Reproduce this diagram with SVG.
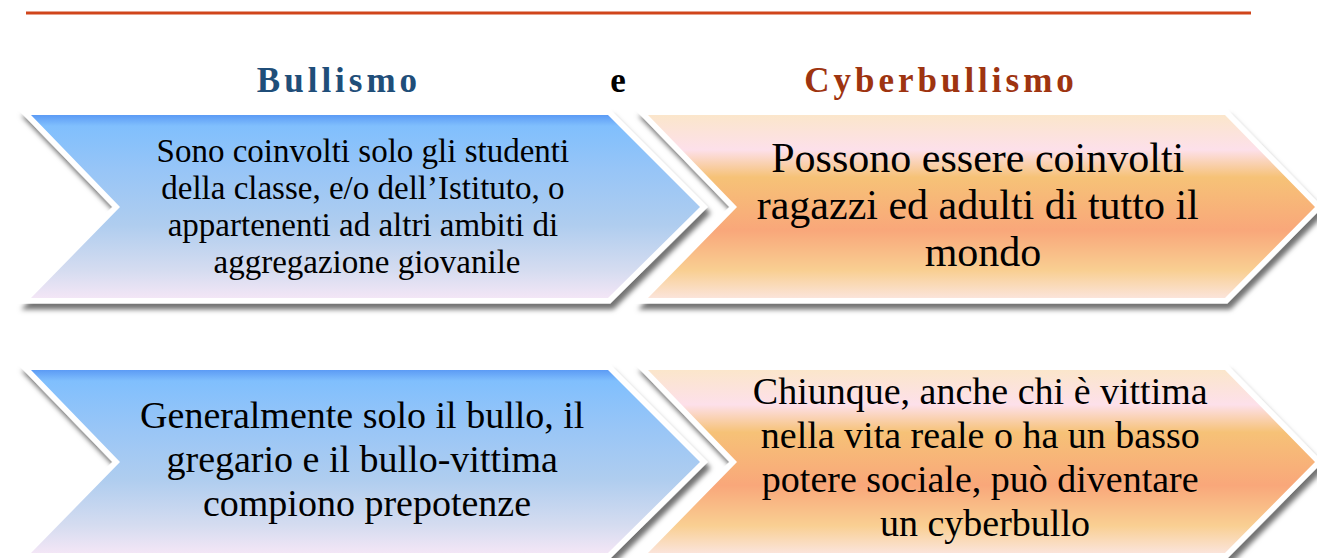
<svg xmlns="http://www.w3.org/2000/svg" width="1317" height="558" viewBox="0 0 1317 558">
<style>
.title{font-family:"Liberation Serif","Times New Roman",serif;font-weight:bold;font-size:35px;letter-spacing:4px;text-anchor:middle}
.txt{font-family:"Liberation Serif","Times New Roman",serif;fill:#000;text-anchor:middle}
.border{fill:#fff;stroke:#fff;stroke-width:11;stroke-linejoin:miter;filter:url(#sh)}
</style>
<defs>
<linearGradient id="gBlue" x1="0" y1="0" x2="0" y2="1">
<stop offset="0" stop-color="#5C9BF5"/>
<stop offset="0.06" stop-color="#80BFFD"/>
<stop offset="0.3" stop-color="#97C5F7"/>
<stop offset="0.6" stop-color="#AFCDEF"/>
<stop offset="0.85" stop-color="#D5DCF0"/>
<stop offset="1" stop-color="#F3E6F6"/>
</linearGradient>
<linearGradient id="gOrange" x1="0" y1="0" x2="0" y2="1">
<stop offset="0" stop-color="#FBE6CB"/>
<stop offset="0.19" stop-color="#FDE0EA"/>
<stop offset="0.34" stop-color="#F6C277"/>
<stop offset="0.63" stop-color="#F9A77A"/>
<stop offset="0.85" stop-color="#F9CF92"/>
<stop offset="1" stop-color="#FBE4DA"/>
</linearGradient>
<filter id="sh" x="-5%" y="-10%" width="110%" height="125%">
<feDropShadow dx="3" dy="6" stdDeviation="2.5" flood-color="#000" flood-opacity="0.55"/>
</filter>
</defs>

<line x1="26" y1="13" x2="1251" y2="13" stroke="#D0451B" stroke-width="3"/>

<g id="header">
<text class="title" x="339" y="92" fill="#1F4E79">Bullismo</text>
<text class="title" x="618" y="92" fill="#000" style="letter-spacing:0">e</text>
<text class="title" x="941" y="92" fill="#9E3410">Cyberbullismo</text>
</g>

<g id="node-b1">
<path class="border" d="M31,115 L608,115 L700,207 L608,298 L31,298 L120,207 Z"/>
<path fill="url(#gBlue)" d="M31,115 L608,115 L700,207 L608,298 L31,298 L120,207 Z"/>
<text class="txt" font-size="33" x="367">
<tspan x="367" y="162">Sono coinvolti solo gli studenti</tspan>
<tspan x="367" y="199">della classe, e/o dell’Istituto, o</tspan>
<tspan x="367" y="236">appartenenti ad altri ambiti di</tspan>
<tspan x="367" y="273">aggregazione giovanile</tspan>
</text>
</g>

<g id="node-c1">
<path class="border" d="M648,115 L1225,115 L1315,207 L1225,298 L648,298 L737,207 Z"/>
<path fill="url(#gOrange)" d="M648,115 L1225,115 L1315,207 L1225,298 L648,298 L737,207 Z"/>
<text class="txt" font-size="42" x="983">
<tspan x="983" y="172">Possono essere coinvolti</tspan>
<tspan x="983" y="219">ragazzi ed adulti di tutto il</tspan>
<tspan x="983" y="266">mondo</tspan>
</text>
</g>

<g id="node-b2">
<path class="border" d="M31,370 L608,370 L700,462 L608,553 L31,553 L120,462 Z"/>
<path fill="url(#gBlue)" d="M31,370 L608,370 L700,462 L608,553 L31,553 L120,462 Z"/>
<text class="txt" font-size="38" x="367">
<tspan x="367" y="428">Generalmente solo il bullo, il</tspan>
<tspan x="367" y="472">gregario e il bullo-vittima</tspan>
<tspan x="367" y="516">compiono prepotenze</tspan>
</text>
</g>

<g id="node-c2">
<path class="border" d="M648,370 L1225,370 L1315,462 L1225,553 L648,553 L737,462 Z"/>
<path fill="url(#gOrange)" d="M648,370 L1225,370 L1315,462 L1225,553 L648,553 L737,462 Z"/>
<text class="txt" font-size="38" x="985">
<tspan x="985" y="404">Chiunque, anche chi è vittima</tspan>
<tspan x="985" y="448">nella vita reale o ha un basso</tspan>
<tspan x="985" y="492">potere sociale, può diventare</tspan>
<tspan x="985" y="536">un cyberbullo</tspan>
</text>
</g>

<g id="connectors"></g>
</svg>
